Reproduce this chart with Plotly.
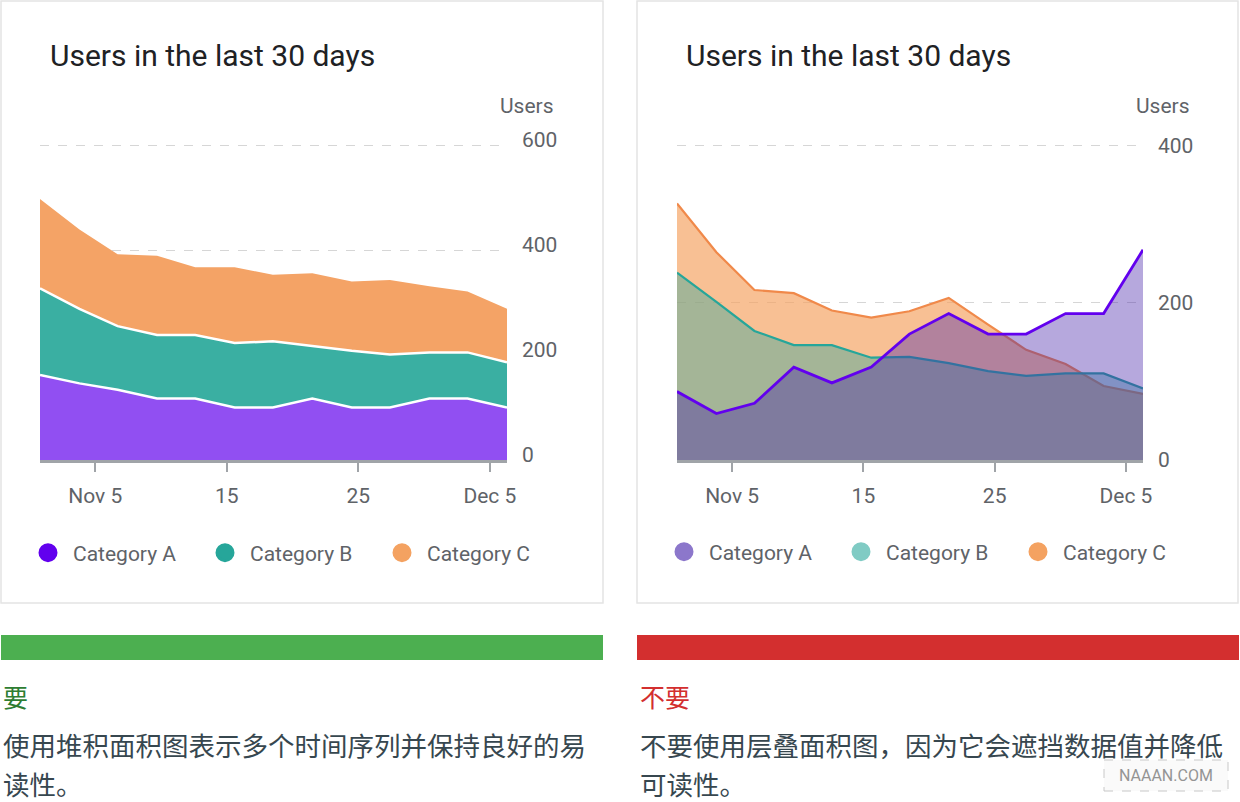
import plotly.graph_objects as go

W, H = 1240, 802

# day of month, counted from Nov 1 (Dec 5 = 35)
days = [0.8, 3.8, 6.7, 9.7, 12.6, 15.6, 18.5, 21.5, 24.5, 27.4, 30.4, 33.3, 36.3]
tick_days = [5, 15, 25, 35]
tick_labels = ["Nov 5", "15", "25", "Dec 5"]

categories = ["Category A", "Category B", "Category C"]

# left chart (stacked)
stack_a = [162, 146, 134, 117, 117, 100, 100, 117, 100, 100, 117, 117, 100]
stack_b = [165, 142, 121, 121, 121, 123, 126, 100, 108, 101, 88, 88, 86]
stack_c = [170, 151, 137, 151, 129, 144, 127, 139, 132, 142, 126, 116, 102]

# right chart (overlapping)
over_a = [87, 59, 72, 118, 98, 118, 160, 186, 160, 160, 186, 186, 267]
over_b = [238, 201, 164, 146, 146, 130, 131, 123, 113, 107, 110, 110, 91]
over_c = [326, 264, 216, 212, 190, 181, 189, 206, 172, 140, 122, 94, 84]

title = "Users in the last 30 days"
do_label = "要"
do_text = ["使用堆积面积图表示多个时间序列并保持良好的易", "读性。"]
dont_label = "不要"
dont_text = ["不要使用层叠面积图，因为它会遮挡数据值并降低", "可读性。"]


def fx(x):
    return x / W


def fy(y):
    return 1 - y / H


FONT = "Roboto"
GRAY = "#5f6368"

fig = go.Figure()

# stacked areas (left)
stack_fill = ["#914ff2", "#3aafa2", "#f4a366"]
for name, vals, col, lw in zip(categories, [stack_a, stack_b, stack_c], stack_fill, [2.5, 2.5, 0]):
    fig.add_trace(go.Scatter(
        x=days, y=vals, name=name, stackgroup="s", mode="lines",
        fillcolor=col, line=dict(color="white" if lw else col, width=lw),
        xaxis="x", yaxis="y", showlegend=False, hoverinfo="skip",
    ))

# overlapping areas (right), drawn C, B, A
over_fill = {"Category A": "rgba(72,37,170,0.4)", "Category B": "rgba(38,166,154,0.4)",
             "Category C": "rgba(244,162,97,0.68)"}
over_line = {"Category A": "#6200ee", "Category B": "#26a69a", "Category C": "#f0894a"}
over_vals = {"Category A": over_a, "Category B": over_b, "Category C": over_c}
for name in ["Category C", "Category B", "Category A"]:
    fig.add_trace(go.Scatter(
        x=days, y=over_vals[name], name=name, fill="tozeroy", mode="lines",
        fillcolor=over_fill[name],
        line=dict(color=over_line[name], width=2.8 if name == "Category A" else 2.2),
        xaxis="x2", yaxis="y2", showlegend=False, hoverinfo="skip",
    ))

# legend entries
left_leg = ["#6200ee", "#26a69a", "#f4a261"]
right_leg = ["#8c77cb", "#80cbc4", "#f4a261"]
for name, col in zip(categories, left_leg):
    fig.add_trace(go.Scatter(x=[None], y=[None], name=name, mode="markers",
                             marker=dict(color=col, size=16, line=dict(color=col, width=3)),
                             xaxis="x", yaxis="y", legend="legend"))
for name, col in zip(categories, right_leg):
    fig.add_trace(go.Scatter(x=[None], y=[None], name=name, mode="markers",
                             marker=dict(color=col, size=16, line=dict(color=col, width=3)),
                             xaxis="x2", yaxis="y2", legend="legend2"))

xax = dict(
    tickmode="array", tickvals=tick_days, ticktext=tick_labels,
    showgrid=False, zeroline=False, showline=True, linecolor="#a0a4a8", linewidth=3,
    ticks="outside", ticklen=9, tickwidth=2, tickcolor="#a0a4a8",
    ticklabelstandoff=6, tickfont=dict(family=FONT, size=21, color=GRAY),
    range=[days[0], days[-1]], fixedrange=True, automargin=False,
)
yax = dict(
    side="right", showgrid=True, gridcolor="#d6d6d6", griddash="dash", gridwidth=1,
    zeroline=False, showline=False, ticks="", ticklabelstandoff=14,
    tickfont=dict(family=FONT, size=21, color=GRAY), fixedrange=True, automargin=False,
)

leg = dict(orientation="h", xanchor="left", yanchor="middle", traceorder="normal",
           itemwidth=40, entrywidth=122, font=dict(family=FONT, size=21, color=GRAY),
           bgcolor="rgba(0,0,0,0)")

fig.update_layout(
    width=W, height=H, margin=dict(l=0, r=0, t=0, b=0, autoexpand=False),
    paper_bgcolor="white", plot_bgcolor="rgba(0,0,0,0)",
    font=dict(family=FONT, color=GRAY),
    xaxis=dict(xax, domain=[fx(40), fx(507)], anchor="y"),
    yaxis=dict(yax, domain=[fy(460), fy(144)], range=[0, 602], tickvals=[0, 200, 400, 600],
               ticklabelshift=-5, anchor="x"),
    xaxis2=dict(xax, domain=[fx(677), fx(1143)], anchor="y2"),
    yaxis2=dict(yax, domain=[fy(460), fy(144)], range=[0, 401.5], tickvals=[0, 200, 400], anchor="x2"),
    legend=dict(leg, x=fx(23), y=fy(553)),
    legend2=dict(leg, x=fx(659), y=fy(552)),
    showlegend=True,
)

shapes = []
# card borders
for x0, x1 in [(1, 603), (637, 1238)]:
    shapes.append(dict(type="rect", xref="paper", yref="paper", x0=fx(x0), x1=fx(x1),
                       y0=fy(603), y1=fy(1), line=dict(color="#e4e4e4", width=1.5), layer="below"))
# do / don't bars
shapes.append(dict(type="rect", xref="paper", yref="paper", x0=fx(1), x1=fx(603),
                   y0=fy(660), y1=fy(635), fillcolor="#4caf50", line=dict(width=0)))
shapes.append(dict(type="rect", xref="paper", yref="paper", x0=fx(637), x1=fx(1239),
                   y0=fy(660), y1=fy(635), fillcolor="#d32f2f", line=dict(width=0)))
# watermark box
shapes.append(dict(type="rect", xref="paper", yref="paper", x0=fx(1104), x1=fx(1228),
                   y0=fy(791), y1=fy(760), fillcolor="rgba(250,250,250,0.9)",
                   line=dict(color="#c8c8c8", width=1, dash="dash")))
fig.update_layout(shapes=shapes)

ann = []
for x0, xr in [(48, 556), (684, 1192)]:
    ann.append(dict(text=title, x=fx(x0), y=fy(55), xref="paper", yref="paper",
                    xanchor="left", yanchor="middle", showarrow=False,
                    font=dict(family=FONT, size=30, color="#202124")))
    ann.append(dict(text="Users", x=fx(xr), y=fy(106), xref="paper", yref="paper",
                    xanchor="right", yanchor="middle", showarrow=False,
                    font=dict(family=FONT, size=21, color=GRAY)))

CJK = "Noto Sans CJK SC"
ann.append(dict(text=do_label, x=fx(1), y=fy(696), xref="paper", yref="paper",
                xanchor="left", yanchor="middle", showarrow=False,
                font=dict(family=CJK, size=25, color="#2e7d32")))
ann.append(dict(text=dont_label, x=fx(638), y=fy(696), xref="paper", yref="paper",
                xanchor="left", yanchor="middle", showarrow=False,
                font=dict(family=CJK, size=25, color="#d32f2f")))
for x0, lines in [(1, do_text), (638, dont_text)]:
    for i, line in enumerate(lines):
        ann.append(dict(text=line, x=fx(x0), y=fy(744 + 39 * i), xref="paper", yref="paper",
                        xanchor="left", yanchor="middle", showarrow=False,
                        font=dict(family=CJK, size=26.5, color="#37474f")))
ann.append(dict(text="NAAAN.COM", x=fx(1166), y=fy(775), xref="paper", yref="paper",
                xanchor="center", yanchor="middle", showarrow=False,
                font=dict(family=FONT, size=16, color="#949494")))
fig.update_layout(annotations=ann)

# drop the default page margin so the figure sits at the window origin
fig.write_html("out.html", post_script="document.body.style.margin='0';",
               config={"displayModeBar": False})
